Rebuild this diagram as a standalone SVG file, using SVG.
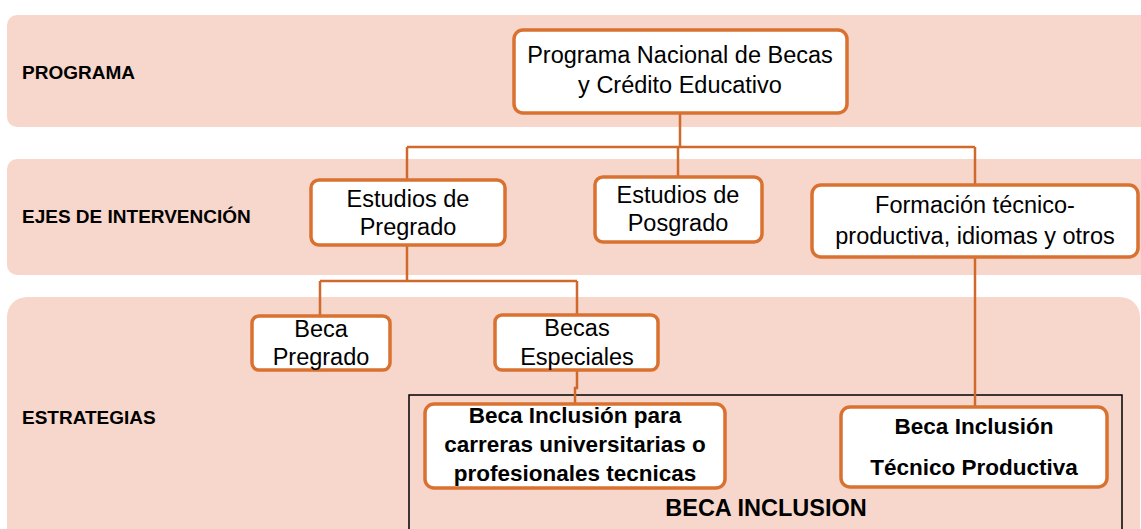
<svg xmlns="http://www.w3.org/2000/svg" width="1141" height="529" viewBox="0 0 1141 529">
<style>
.band{fill:#F7D7CC;}
.box{fill:#FFFFFF;stroke:#D97231;stroke-width:3.5;}
.conn{fill:none;stroke:#D0692C;stroke-width:2.5;}
.lbl{font-family:"Liberation Sans",Arial,sans-serif;font-weight:bold;font-size:19px;fill:#000;}
.t{font-family:"Liberation Sans",Arial,sans-serif;font-size:23.5px;fill:#000;text-anchor:middle;}
.tb{font-family:"Liberation Sans",Arial,sans-serif;font-size:22.5px;font-weight:bold;fill:#000;text-anchor:middle;}
</style>
<rect width="1141" height="529" fill="#FFFFFF"/>
<g id="bands">
<rect class="band" x="7" y="15" width="1150" height="112" rx="10"/>
<rect class="band" x="7" y="159" width="1150" height="116" rx="10"/>
<rect class="band" x="7" y="297" width="1133" height="260" rx="20"/>
</g>
<g id="labels">
<text class="lbl" x="22" y="79">PROGRAMA</text>
<text class="lbl" x="22" y="223">EJES DE INTERVENCIÓN</text>
<text class="lbl" x="22" y="424">ESTRATEGIAS</text>
</g>
<g id="beca-inclusion-group">
<rect x="409" y="395" width="713" height="150" fill="none" stroke="#000" stroke-width="1.5"/>
<text class="tb" x="766" y="516" style="font-size:23.5px">BECA INCLUSION</text>
</g>
<g id="connectors">
<path class="conn" d="M680 113 V147 M407 147 H975 M407 147 V180 M678 147 V177 M975 147 V185"/>
<path class="conn" d="M407 245 V281 M320 281 H577 M320 281 V316 M577 281 V315"/>
<path class="conn" d="M577 370 V388 H575 V404"/>
<path class="conn" d="M975 257 V407"/>
</g>
<g id="programa">
<rect class="box" x="514" y="30" width="333" height="83" rx="9"/>
<text class="t" x="680" y="63">Programa Nacional de Becas</text>
<text class="t" x="680" y="93">y Crédito Educativo</text>
</g>
<g id="estudios-pregrado">
<rect class="box" x="311" y="180" width="194" height="65" rx="8"/>
<text class="t" x="408" y="207">Estudios de</text>
<text class="t" x="408" y="235">Pregrado</text>
</g>
<g id="estudios-posgrado">
<rect class="box" x="595" y="177" width="167" height="65" rx="8"/>
<text class="t" x="678" y="203">Estudios de</text>
<text class="t" x="678" y="231">Posgrado</text>
</g>
<g id="formacion">
<rect class="box" x="812" y="185" width="326" height="72" rx="9"/>
<text class="t" x="975" y="213">Formación técnico-</text>
<text class="t" x="975" y="244">productiva, idiomas y otros</text>
</g>
<g id="beca-pregrado">
<rect class="box" x="252" y="316" width="138" height="54" rx="7"/>
<text class="t" x="321" y="337">Beca</text>
<text class="t" x="321" y="365">Pregrado</text>
</g>
<g id="becas-especiales">
<rect class="box" x="495" y="315" width="163" height="55" rx="7"/>
<text class="t" x="577" y="336">Becas</text>
<text class="t" x="577" y="365">Especiales</text>
</g>
<g id="beca-inclusion-carreras">
<rect class="box" x="425" y="404" width="300" height="84" rx="9"/>
<text class="tb" x="575" y="423">Beca Inclusión para</text>
<text class="tb" x="575" y="452">carreras universitarias o</text>
<text class="tb" x="575" y="481">profesionales tecnicas</text>
</g>
<g id="beca-inclusion-tecnico">
<rect class="box" x="841" y="407" width="266" height="80" rx="9"/>
<text class="tb" x="974" y="434">Beca Inclusión</text>
<text class="tb" x="974" y="475">Técnico Productiva</text>
</g>
</svg>
